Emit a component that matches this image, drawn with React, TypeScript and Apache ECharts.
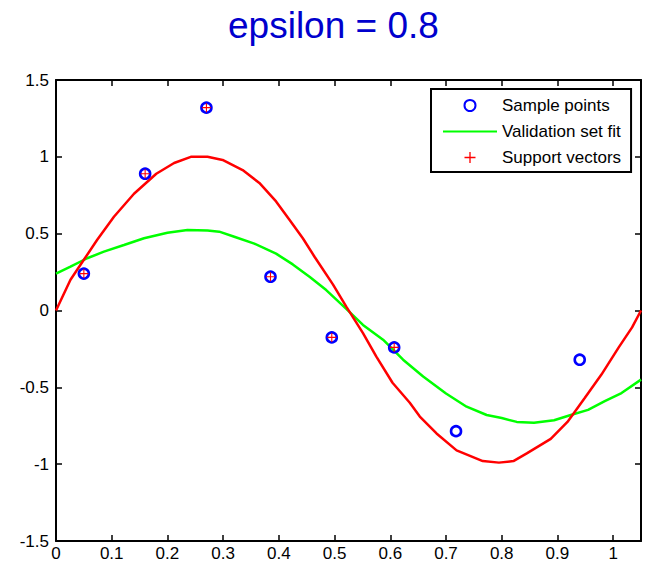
import React, { useEffect, useRef } from "react";
import * as echarts from "echarts";

const titleText = "epsilon = 0.8";

// Sample points
const sampleX = [0.05, 0.16, 0.27, 0.385, 0.495, 0.607, 0.718, 0.94];
const sampleY = [0.24, 0.89, 1.32, 0.22, -0.175, -0.24, -0.785, -0.32];

// Support vectors (subset of samples)
const svX = [0.05, 0.16, 0.27, 0.385, 0.495, 0.607];
const svY = [0.24, 0.89, 1.32, 0.22, -0.175, -0.24];

// Red fitted curve
const redX = [0, 0.026, 0.05, 0.074, 0.104, 0.14, 0.18, 0.212, 0.242, 0.272, 0.299, 0.335, 0.365, 0.395, 0.419, 0.443, 0.464, 0.497, 0.521, 0.551, 0.575, 0.604, 0.635, 0.653, 0.683, 0.719, 0.766, 0.795, 0.821, 0.845, 0.888, 0.918, 0.949, 0.979, 1.01, 1.034, 1.05];
const redY = [0, 0.2, 0.33, 0.46, 0.61, 0.76, 0.89, 0.96, 1.0, 1.0, 0.98, 0.914, 0.83, 0.71, 0.59, 0.47, 0.35, 0.17, 0.025, -0.147, -0.3, -0.47, -0.6, -0.69, -0.8, -0.91, -0.98, -0.99, -0.98, -0.93, -0.835, -0.725, -0.57, -0.417, -0.24, -0.11, 0];

// Green validation set fit
const greenX = [0, 0.026, 0.056, 0.086, 0.122, 0.158, 0.2, 0.236, 0.272, 0.293, 0.32, 0.356, 0.395, 0.425, 0.455, 0.485, 0.521, 0.551, 0.587, 0.623, 0.659, 0.7, 0.737, 0.773, 0.8, 0.827, 0.858, 0.894, 0.924, 0.955, 0.985, 1.015, 1.05];
const greenY = [0.24, 0.285, 0.34, 0.383, 0.426, 0.47, 0.506, 0.524, 0.52, 0.513, 0.48, 0.435, 0.37, 0.3, 0.22, 0.133, 0.01, -0.094, -0.19, -0.32, -0.43, -0.54, -0.626, -0.68, -0.7, -0.725, -0.73, -0.714, -0.68, -0.647, -0.59, -0.537, -0.45];

const legendNames = ["Sample points", "Validation set fit", "Support vectors"];

const FONT = "'Liberation Sans', Arial, Helvetica, sans-serif";

const zip = (xs: number[], ys: number[]) => xs.map((x, i) => [x, ys[i]]);

const PLUS = "path://M-0.12,-1 L0.12,-1 L0.12,-0.12 L1,-0.12 L1,0.12 L0.12,0.12 L0.12,1 L-0.12,1 L-0.12,0.12 L-1,0.12 L-1,-0.12 L-0.12,-0.12 Z";

export default function App() {
  const ref = useRef<HTMLDivElement>(null);
  useEffect(() => {
    if (!ref.current) return;
    const chart = echarts.init(ref.current, undefined, { renderer: "svg" });
    const axisCommon = {
      axisLine: { show: true, onZero: false, lineStyle: { color: "#000", width: 2 } },
      axisTick: { show: true, inside: true, length: 6, lineStyle: { color: "#000", width: 1.5 } },
      splitLine: { show: false },
    };
    chart.setOption({
      animation: false,
      backgroundColor: "#fff",
      graphic: [
        {
          type: "text",
          left: 228,
          top: 7,
          style: { text: titleText, fill: "#0000CD", font: `37px ${FONT}` },
        },
      ],
      grid: { left: 56, right: 11, top: 80, bottom: 28 },
      legend: {
        orient: "vertical",
        left: 431,
        top: 89,
        borderColor: "#000",
        borderWidth: 2,
        backgroundColor: "#fff",
        borderRadius: 0,
        padding: [8, 10, 6, 11],
        itemWidth: 54,
        itemHeight: 11,
        itemGap: 9,
        textStyle: { fontSize: 17, fontFamily: FONT, color: "#000" },
        data: [
          { name: legendNames[0] },
          { name: legendNames[1], itemStyle: { color: "rgba(0,0,0,0)", borderWidth: 0, opacity: 0 } },
          { name: legendNames[2] },
        ],
      },
      xAxis: [
        {
          type: "value",
          min: 0,
          max: 1.05,
          interval: 0.1,
          position: "bottom",
          ...axisCommon,
          axisLabel: {
            show: true,
            margin: 4,
            color: "#000",
            fontSize: 17,
            fontFamily: FONT,
            showMaxLabel: false,
            formatter: (v: number) => (Math.abs(v * 10 - Math.round(v * 10)) < 1e-6 ? String(Math.round(v * 10) / 10) : ""),
          },
        },
        {
          type: "value",
          min: 0,
          max: 1.05,
          interval: 0.1,
          position: "top",
          ...axisCommon,
          axisLabel: { show: false },
        },
      ],
      yAxis: [
        {
          type: "value",
          min: -1.5,
          max: 1.5,
          interval: 0.5,
          position: "left",
          ...axisCommon,
          axisLabel: { show: true, margin: 7, color: "#000", fontSize: 17, fontFamily: FONT },
        },
        {
          type: "value",
          min: -1.5,
          max: 1.5,
          interval: 0.5,
          position: "right",
          ...axisCommon,
          axisLabel: { show: false },
        },
      ],
      series: [
        {
          name: "Validation set fit",
          type: "line",
          data: zip(greenX, greenY),
          showSymbol: false,
          symbol: "none",
          smooth: false,
          lineStyle: { color: "#00FF00", width: 2.5 },
          itemStyle: { color: "#00FF00" },
          z: 2,
        },
        {
          name: "fit",
          type: "line",
          data: zip(redX, redY),
          showSymbol: false,
          symbol: "none",
          smooth: false,
          lineStyle: { color: "#FF0000", width: 2.5 },
          itemStyle: { color: "#FF0000" },
          z: 3,
        },
        {
          name: "Sample points",
          type: "scatter",
          data: zip(sampleX, sampleY),
          symbol: "circle",
          symbolSize: 10,
          itemStyle: { color: "rgba(255,255,255,0)", borderColor: "#0000FF", borderWidth: 2.6, opacity: 1 },
          z: 4,
        },
        {
          name: "Support vectors",
          type: "scatter",
          data: zip(svX, svY),
          symbol: PLUS,
          symbolKeepAspect: true,
          symbolSize: 9,
          itemStyle: { color: "#FF0000", opacity: 1 },
          z: 5,
        },
      ],
    });
    return () => chart.dispose();
  }, []);
  return <div ref={ref} style={{ width: 652, height: 569, position: "absolute", left: 0, top: 0 }} />;
}
